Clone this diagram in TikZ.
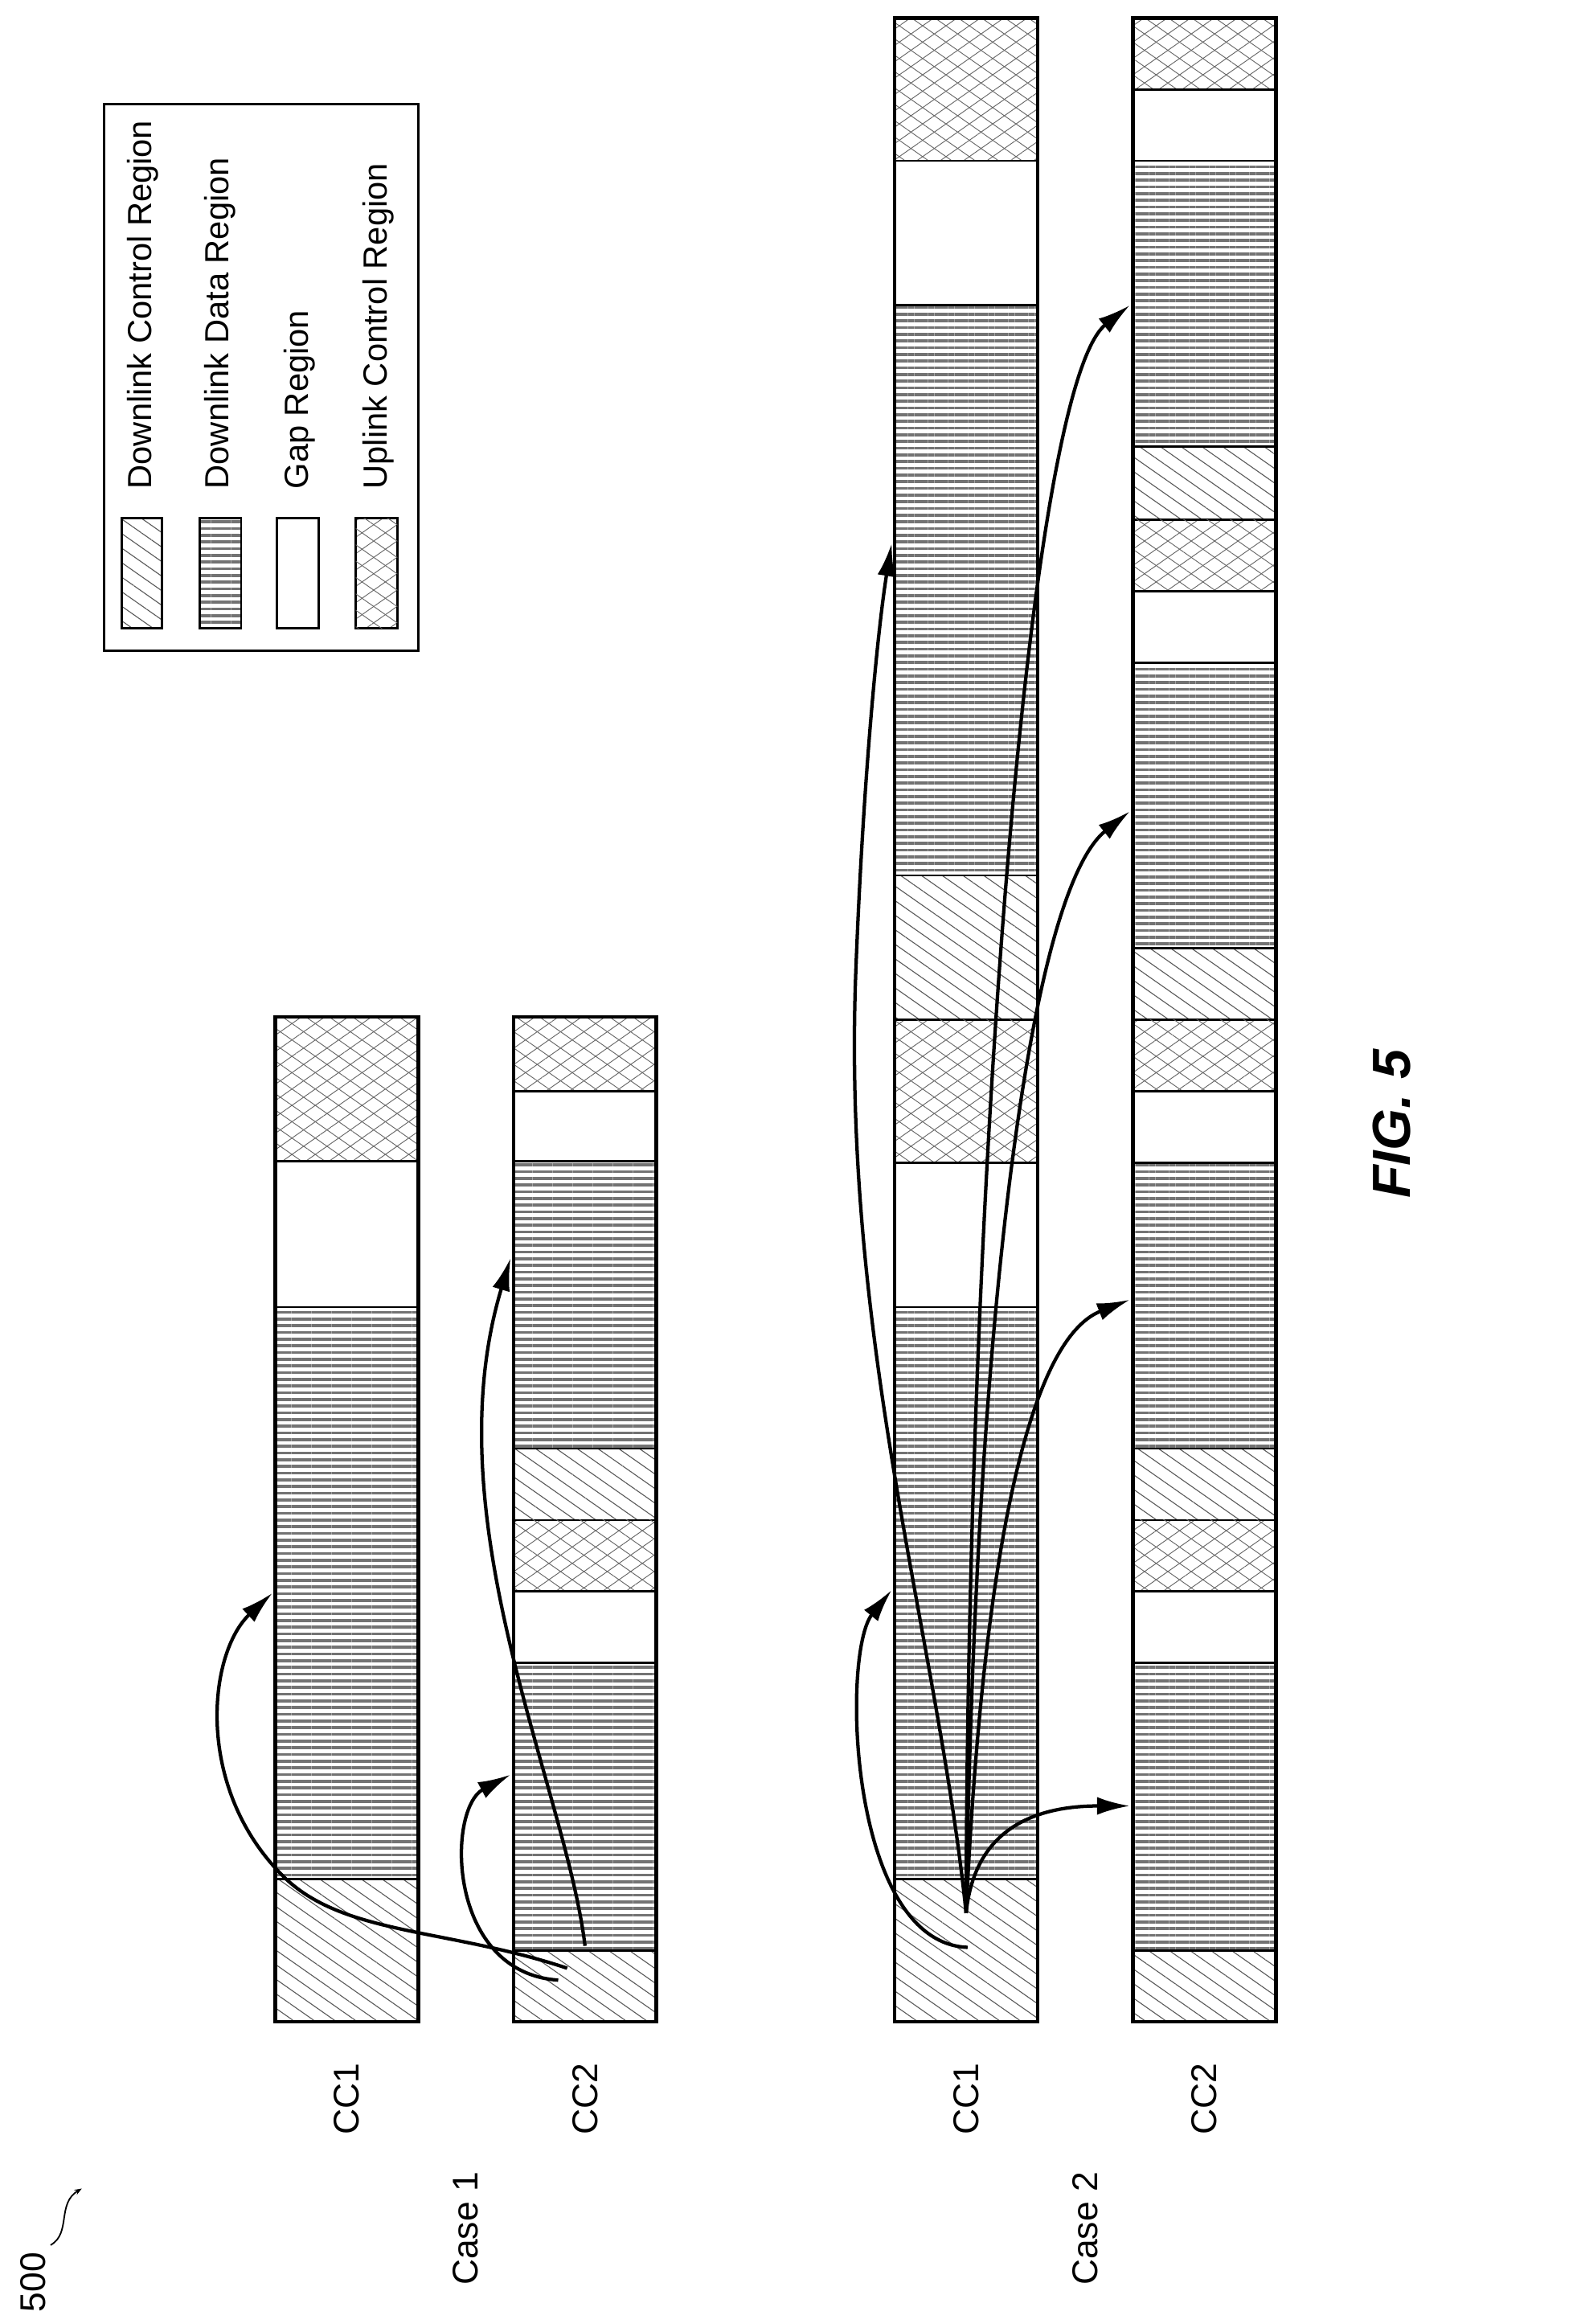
\documentclass[tikz,border=0pt]{standalone}
\usepackage{fontspec}
\setmainfont{Liberation Sans}
\usetikzlibrary{patterns.meta,arrows.meta}
\tikzset{
 dlc/.style={pattern={Lines[angle=-35,distance=8pt,line width=0.6pt]},pattern color=black!65},
 dld/.style={pattern={Lines[angle=0,distance=4.5pt,line width=2pt]},pattern color=black!55},
 gap/.style={fill=white},
 ulc/.style={pattern={Lines[angle=35,distance=9pt,line width=0.5pt]},pattern color=black!60,
   postaction={pattern={Lines[angle=-35,distance=9pt,line width=0.5pt]},pattern color=black!60}},
 seg/.style={draw,line width=1.5pt},
 barframe/.style={draw,line width=2.5pt},
 arr/.style={line width=2.3pt,-{Latex[length=22pt,width=12pt]}},
 lbl/.style={rotate=90,font=\fontsize{24}{28}\selectfont},
 leg/.style={rotate=90,font=\fontsize{22.5}{26}\selectfont},
}
\newcommand\mybar[4]{%
 \foreach \a/\b/\t in {#4} {\path[seg,\t] (#1,\a) rectangle (#2,\b);}
 \draw[barframe] (#1,#3) rectangle (#2,1358);}
\begin{document}
\begin{tikzpicture}[x=1pt,y=-1pt]
\useasboundingbox (0,0) rectangle (1059,1561);
% legend
\draw[line width=1.5pt] (70,70) rectangle (281,437);
\path[seg,dlc] (82,348) rectangle (109,422);
\path[seg,dld] (134,348) rectangle (162,422);
\path[seg,gap] (186,348) rectangle (214,422);
\path[seg,ulc] (239,348) rectangle (267,422);
\node[leg,anchor=west] (l1) at (96,332) {Downlink Control Region};
\node[leg,anchor=west] (l2) at (148,332) {Downlink Data Region};
\node[leg,anchor=west] (l3) at (201,332) {Gap Region};
\node[leg,anchor=west] (l4) at (254,332) {Uplink Control Region};
% bars
\mybar{185}{281}{683}{683/780/ulc,780/878/gap,878/1262/dld,1262/1358/dlc}
\mybar{345}{441}{683}{683/733/ulc,733/780/gap,780/973/dld,973/1021/dlc,1021/1069/ulc,1069/1117/gap,1117/1310/dld,1310/1358/dlc}
\mybar{601}{697}{12}{12/108/ulc,108/205/gap,205/588/dld,588/685/dlc,685/781/ulc,781/878/gap,878/1262/dld,1262/1358/dlc}
\mybar{761}{857}{12}{12/60/ulc,60/108/gap,108/300/dld,300/349/dlc,349/397/ulc,397/445/gap,445/637/dld,637/685/dlc,685/733/ulc,733/781/gap,781/973/dld,973/1021/dlc,1021/1069/ulc,1069/1117/gap,1117/1310/dld,1310/1358/dlc}
% labels
\node[lbl] (c11) at (233,1410) {CC1};
\node[lbl] (c12) at (393,1410) {CC2};
\node[lbl] (c21) at (649,1410) {CC1};
\node[lbl] (c22) at (809,1410) {CC2};
\node[lbl] (k1) at (313,1497) {Case 1};
\node[lbl] (k2) at (729,1497) {Case 2};
\node[lbl] (n500) at (22,1533) {500};
\coordinate (s1) at (34,1508);
\coordinate (s2) at (55,1470);
\draw[line width=1pt,-{Stealth[length=5pt]}] (s1) .. controls (48,1500) and (38,1480) .. (s2);
\node[rotate=90,font=\fontsize{36}{40}\selectfont\bfseries\itshape] (fig) at (935,755) {FIG. 5};
% case 1 arrows
\coordinate (a1s) at (375,1330); \coordinate (a1e) at (343,1192);
\coordinate (b1s) at (393,1307); \coordinate (b1e) at (343,845);
\coordinate (c1s) at (381,1322); \coordinate (c1e) at (183,1070);
\draw[arr] (a1s) .. controls (300,1325) and (300,1215) .. (a1e);
\draw[arr] (b1s) .. controls (380,1200) and (290,1020) .. (b1e);
\draw[arr] (c1s) .. controls (300,1295) and (230,1300) .. (190,1260) .. controls (130,1200) and (140,1110) .. (c1e);
% case 2 arrows
\coordinate (O) at (649,1285);
\coordinate (o2) at (650,1308);
\coordinate (e1) at (599,1068);
\coordinate (e2) at (599,365);
\coordinate (e3) at (759,1213);
\coordinate (e4) at (759,873);
\coordinate (e5) at (759,545);
\coordinate (e6) at (759,205);
\draw[arr] (o2) .. controls (570,1305) and (565,1110) .. (e1);
\draw[arr] (O) .. controls (630,1100) and (565,900) .. (575,650) .. controls (580,520) and (590,420) .. (e2);
\draw[arr] (O) .. controls (655,1225) and (700,1213) .. (e3);
\draw[arr] (O) .. controls (660,1050) and (690,900) .. (e4);
\draw[arr] (O) .. controls (655,900) and (690,600) .. (e5);
\draw[arr] (O) .. controls (650,800) and (690,260) .. (e6);
\end{tikzpicture}
\end{document}
